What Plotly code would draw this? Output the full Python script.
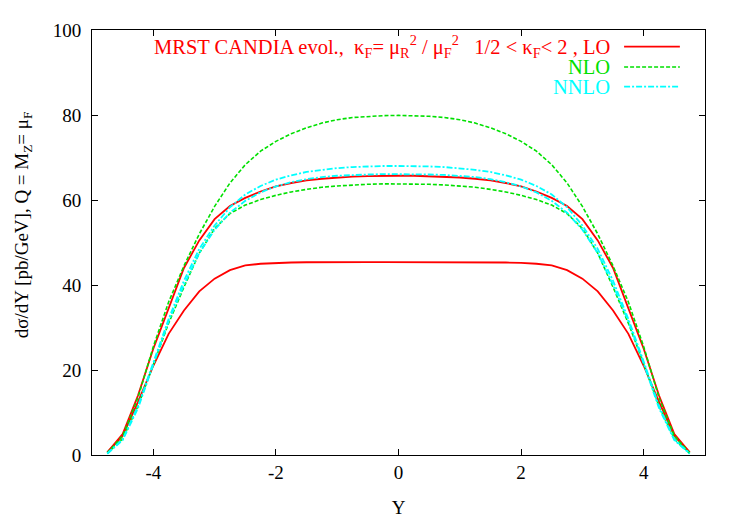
import plotly.graph_objects as go

# Rapidity grid
rapidity = [-4.75, -4.5, -4.25, -4.0, -3.75, -3.5, -3.25, -3.0, -2.75, -2.5,
            -2.25, -2.0, -1.75, -1.5, -1.25, -1.0, -0.75, -0.5, -0.25, 0.0,
            0.25, 0.5, 0.75, 1.0, 1.25, 1.5, 1.75, 2.0, 2.25, 2.5,
            2.75, 3.0, 3.25, 3.5, 3.75, 4.0, 4.25, 4.5, 4.75]

# LO band (red)
lo_upper = [0.6, 4.9, 14.0, 25.0, 34.5, 44.0, 50.5, 55.5, 58.6, 60.5,
            62.0, 63.2, 64.0, 64.6, 65.0, 65.3, 65.5, 65.6, 65.7, 65.7,
            65.7, 65.6, 65.5, 65.3, 65.0, 64.6, 64.0, 63.2, 62.0, 60.5,
            58.6, 55.5, 50.5, 44.0, 34.5, 25.0, 14.0, 4.9, 0.6]
lo_lower = [0.6, 4.5, 12.5, 21.0, 28.5, 34.0, 38.5, 41.5, 43.5, 44.6,
            45.0, 45.2, 45.3, 45.35, 45.4, 45.4, 45.4, 45.4, 45.4, 45.4,
            45.4, 45.4, 45.4, 45.4, 45.4, 45.35, 45.3, 45.2, 45.0, 44.6,
            43.5, 41.5, 38.5, 34.0, 28.5, 21.0, 12.5, 4.5, 0.6]

# NLO band (green)
nlo_upper = [0.5, 4.5, 13.5, 25.5, 36.0, 44.5, 52.0, 58.5, 64.0, 68.3,
             71.5, 73.8, 75.6, 77.0, 78.1, 78.9, 79.4, 79.7, 79.85, 79.9,
             79.85, 79.7, 79.4, 78.9, 78.1, 77.0, 75.6, 73.8, 71.5, 68.3,
             64.0, 58.5, 52.0, 44.5, 36.0, 25.5, 13.5, 4.5, 0.5]
nlo_lower = [0.4, 3.8, 11.5, 21.5, 31.0, 39.5, 47.5, 53.3, 56.8, 58.8,
             60.1, 61.1, 61.9, 62.5, 63.0, 63.3, 63.55, 63.7, 63.8, 63.8,
             63.8, 63.7, 63.55, 63.3, 63.0, 62.5, 61.9, 61.1, 60.1, 58.8,
             56.8, 53.3, 47.5, 39.5, 31.0, 21.5, 11.5, 3.8, 0.4]

# NNLO band (cyan)
nnlo_upper = [0.4, 3.7, 11.5, 22.0, 32.0, 41.0, 48.5, 54.0, 58.3, 61.3,
              63.3, 64.8, 65.8, 66.6, 67.1, 67.5, 67.75, 67.9, 68.0, 68.0,
              68.0, 67.9, 67.75, 67.5, 67.1, 66.6, 65.8, 64.8, 63.3, 61.3,
              58.3, 54.0, 48.5, 41.0, 32.0, 22.0, 11.5, 3.7, 0.4]
nnlo_lower = [0.3, 3.5, 11.0, 21.5, 31.5, 40.0, 47.5, 53.0, 57.0, 59.8,
              61.8, 63.2, 64.2, 64.9, 65.4, 65.7, 65.9, 66.0, 66.1, 66.1,
              66.1, 66.0, 65.9, 65.7, 65.4, 64.9, 64.2, 63.2, 61.8, 59.8,
              57.0, 53.0, 47.5, 40.0, 31.5, 21.5, 11.0, 3.5, 0.3]

x_tickvals = [-4, -2, 0, 2, 4]
x_ticktext = ["-4", "-2", "0", "2", "4"]
y_tickvals = [0, 20, 40, 60, 80, 100]
y_ticktext = ["0", "20", "40", "60", "80", "100"]

x_title = "Y"
y_title = "dσ/dY [pb/GeV], Q = M<sub>Z</sub>= μ<sub>F</sub>"

legend_labels = [
    "MRST CANDIA evol.,&nbsp; κ<sub>F</sub>= μ<sub>R</sub><sup>2</sup> / μ<sub>F</sub><sup>2</sup>&nbsp;&nbsp; 1/2 &lt; κ<sub>F</sub>&lt; 2 , LO",
    "NLO",
    "NNLO",
]

RED = "#ff0000"
GREEN = "#00e000"
CYAN = "#00ffff"
FONT = "'Times New Roman', 'Liberation Serif', 'DejaVu Serif', serif"

styles = [
    (RED, "solid", 1.8),
    (GREEN, "4px,2px", 1.6),
    (CYAN, "6px,2px,2px,2px", 1.8),
]

fig = go.Figure()
series = [(lo_upper, lo_lower), (nlo_upper, nlo_lower), (nnlo_upper, nnlo_lower)]
for (up, low), (col, dash, w) in zip(series, styles):
    for ys in (up, low):
        fig.add_trace(go.Scatter(x=rapidity, y=ys, mode="lines",
                                 line=dict(color=col, dash=dash, width=w),
                                 showlegend=False, hoverinfo="skip"))

# legend (gnuplot style: right-aligned text, then line sample)
legend_y = [0.961, 0.913, 0.867]
for label, (col, dash, w), ly in zip(legend_labels, styles, legend_y):
    fig.add_annotation(x=0.848, y=ly, xref="paper", yref="paper",
                       text=label, showarrow=False, xanchor="right",
                       yanchor="middle", font=dict(family=FONT, size=20.5, color=col))
    fig.add_shape(type="line", xref="paper", yref="paper",
                  x0=0.868, x1=0.959, y0=ly, y1=ly,
                  line=dict(color=col, dash=dash, width=w))

# y-axis label (gnuplot places it slightly above the vertical centre)
fig.add_annotation(x=-0.1126, y=0.543, xref="paper", yref="paper",
                   text=y_title, textangle=-90, showarrow=False,
                   xanchor="center", yanchor="middle",
                   font=dict(family=FONT, size=19, color="black"))

axis_common = dict(showline=True, linecolor="black", linewidth=1, mirror="ticks",
                   ticks="inside", ticklen=6, tickcolor="black", showgrid=False,
                   zeroline=False, tickfont=dict(family=FONT, size=19, color="black"))

fig.update_xaxes(range=[-5, 5], tickvals=x_tickvals, ticktext=x_ticktext,
                 title=dict(text=x_title, font=dict(family=FONT, size=19, color="black"),
                            standoff=18),
                 **axis_common)
fig.update_yaxes(range=[0, 100], tickvals=y_tickvals, ticktext=y_ticktext,
                 ticklabelstandoff=6, **axis_common)

fig.update_layout(width=740, height=518,
                  font=dict(family=FONT, size=19, color="black"),
                  margin=dict(l=84, r=43, t=17, b=70, pad=0),
                  paper_bgcolor="white", plot_bgcolor="white",
                  showlegend=False)

fig.write_html("out.html")
